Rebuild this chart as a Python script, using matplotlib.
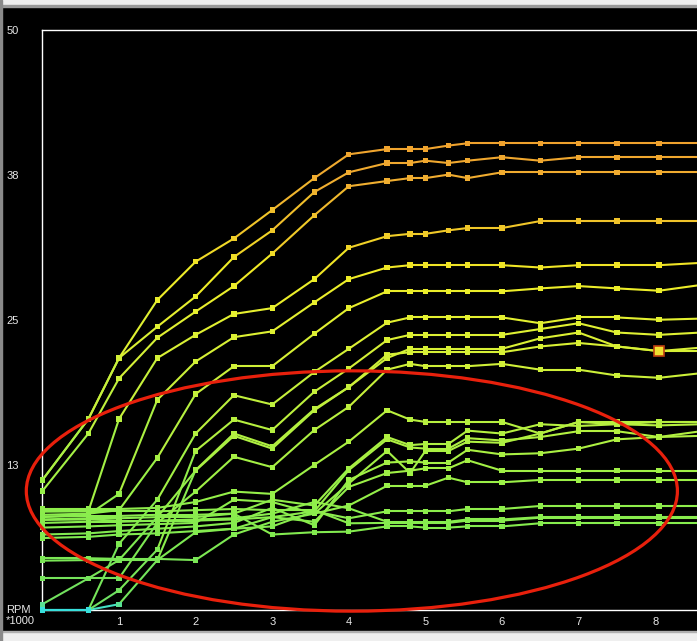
import numpy as np
import matplotlib.pyplot as plt
from matplotlib.collections import LineCollection
from matplotlib.colors import LinearSegmentedColormap, Normalize
from matplotlib.patches import Ellipse, Rectangle

# rpm break points (x1000)
rpm = [0, 0.6, 1.0, 1.5, 2.0, 2.5, 3.0, 3.55, 4.0, 4.5, 4.8, 5.0, 5.3, 5.55,
       6.0, 6.5, 7.0, 7.5, 8.05, 8.6]

# one row of the map per line
row01 = [11.2, 16.45, 21.7, 26.7, 30.0, 32.0, 34.45, 37.2, 39.25, 39.7, 39.7, 39.7, 40.0, 40.2, 40.2, 40.2, 40.2, 40.2, 40.2, 40.2]
row02 = [11.2, 16.45, 21.7, 24.4, 27.0, 30.4, 32.7, 36.0, 37.7, 38.5, 38.5, 38.7, 38.5, 38.7, 39.0, 38.7, 39.0, 39.0, 39.0, 39.0]
row03 = [10.25, 15.2, 19.95, 23.45, 25.7, 27.9, 30.7, 34.0, 36.5, 36.95, 37.2, 37.2, 37.5, 37.2, 37.7, 37.7, 37.7, 37.7, 37.7, 37.7]
row04 = [8.5, 8.5, 16.45, 21.7, 23.7, 25.5, 26.0, 28.5, 31.2, 32.2, 32.4, 32.4, 32.7, 32.9, 32.9, 33.5, 33.5, 33.5, 33.5, 33.5]
row05 = [8.0, 8.2, 10.0, 18.1, 21.4, 23.5, 24.0, 26.5, 28.5, 29.5, 29.7, 29.7, 29.7, 29.7, 29.7, 29.5, 29.7, 29.7, 29.7, 29.9]
row06 = [8.2, 8.3, 8.6, 13.1, 18.6, 21.0, 21.0, 23.8, 26.0, 27.45, 27.45, 27.45, 27.45, 27.45, 27.45, 27.7, 27.9, 27.7, 27.5, 28.0]
row07 = [0, 0, 5.7, 9.5, 15.2, 18.5, 17.7, 20.5, 22.5, 24.75, 25.2, 25.2, 25.2, 25.2, 25.2, 24.7, 25.2, 25.2, 25.0, 25.1]
row08 = [0, 0, 1.7, 5.2, 13.7, 16.4, 15.5, 18.8, 20.8, 23.25, 23.7, 23.7, 23.7, 23.7, 23.7, 24.2, 24.7, 23.9, 23.7, 23.9]
row09 = [0, 0, 0.5, 4.3, 12.05, 15.2, 14.1, 17.3, 19.2, 21.7, 22.5, 22.5, 22.5, 22.5, 22.5, 23.4, 23.9, 22.7, 22.3, 22.6]
row10 = [0.5, 2.73, 4.3, 8.0, 12.0, 15.0, 13.9, 17.2, 19.2, 22.0, 22.2, 22.2, 22.2, 22.2, 22.2, 22.7, 23.0, 22.7, 22.3, 22.3]
row11 = [2.73, 2.73, 2.73, 7.5, 10.2, 13.2, 12.3, 15.5, 17.5, 20.7, 21.2, 21.0, 21.0, 21.0, 21.2, 20.7, 20.7, 20.2, 20.0, 20.4]
row12 = [8.7, 8.7, 8.7, 8.8, 9.3, 10.2, 10.0, 12.5, 14.5, 17.2, 16.4, 16.2, 16.2, 16.2, 16.2, 15.2, 16.2, 16.2, 16.2, 16.2]
row13 = [7.8, 7.9, 7.9, 8.0, 8.0, 8.3, 9.5, 9.0, 12.2, 14.9, 14.2, 14.3, 14.3, 15.45, 15.2, 16.0, 15.85, 16.0, 15.9, 16.0]
row14 = [7.5, 7.6, 7.6, 7.7, 7.7, 7.8, 8.0, 8.5, 12.05, 14.7, 14.0, 13.9, 13.9, 14.8, 14.6, 14.9, 15.4, 15.4, 14.9, 15.4]
row15 = [7.1, 7.2, 7.3, 7.4, 7.5, 9.5, 9.3, 8.3, 10.9, 13.7, 11.8, 13.7, 13.7, 14.5, 14.4, 15.2, 16.2, 16.0, 16.2, 16.2]
row16 = [6.5, 6.6, 6.8, 7.0, 7.2, 7.5, 8.8, 7.3, 11.2, 12.7, 12.8, 12.7, 12.7, 13.8, 13.4, 13.5, 13.9, 14.7, 14.9, 15.0]
row17 = [6.2, 6.3, 6.5, 6.6, 6.8, 7.0, 8.0, 7.6, 10.6, 11.8, 12.0, 12.2, 12.2, 12.9, 12.0, 12.0, 12.0, 12.0, 12.0, 12.0]
row18 = [4.46, 4.46, 4.4, 4.4, 4.3, 6.5, 7.6, 8.3, 9.0, 10.7, 10.7, 10.7, 11.4, 11.0, 11.0, 11.2, 11.2, 11.2, 11.2, 11.2]
row19 = [4.25, 4.3, 4.3, 4.3, 6.7, 7.0, 7.2, 8.5, 7.9, 8.5, 8.5, 8.5, 8.5, 8.7, 8.7, 8.96, 8.96, 8.96, 8.96, 8.96]
row20 = [8.47, 8.5, 8.5, 8.5, 8.6, 8.7, 8.6, 8.6, 7.47, 7.5, 7.5, 7.5, 7.5, 7.7, 7.7, 7.95, 7.95, 7.95, 7.95, 7.95]
row21 = [8.04, 8.1, 8.1, 8.2, 8.2, 8.3, 6.5, 6.7, 6.75, 7.2, 7.2, 7.1, 7.1, 7.2, 7.2, 7.47, 7.47, 7.47, 7.47, 7.47]
row22 = [7.76, 7.8, 7.7, 7.7, 7.8, 7.9, 8.3, 9.3, 8.76, 7.6, 7.6, 7.6, 7.6, 7.8, 7.8, 8.0, 8.0, 8.0, 8.0, 8.0]

rows = [row22, row21, row20, row19, row18, row17, row16, row15, row14, row13, row12,
        row11, row10, row09, row08, row07, row06, row05, row04, row03, row02, row01]

# selected cell (rpm, value)
sel_rpm, sel_val = 8.05, 22.3

y_ticks = [12.5, 25, 37.5, 50]
y_labels = ['13', '25', '38', '50']
x_ticks = [1, 2, 3, 4, 5, 6, 7, 8]

cmap = LinearSegmentedColormap.from_list('map', [
    (0.0, '#38e0dc'), (0.02, '#70e060'), (0.15, '#80ea50'), (0.25, '#98f048'),
    (0.37, '#b4f040'), (0.5, '#d0f038'), (0.6, '#e4f030'), (0.69, '#f0ec26'),
    (0.78, '#f0c828'), (0.88, '#f0ae30'), (1.0, '#f09c2c')])
norm = Normalize(0, 42)

W, H = 697, 641
fig = plt.figure(figsize=(W / 100, H / 100), dpi=100, facecolor='black')
ax = fig.add_axes([42.4 / W, 31 / H, 1 - 42.4 / W, 580.5 / H])
ax.set_facecolor('black')

x = np.array(rpm)
for r in rows:
    v = np.array(r)
    pts = np.column_stack([x, v])
    segs = np.stack([pts[:-1], pts[1:]], axis=1)
    lc = LineCollection(segs, colors=cmap(norm((v[:-1] + v[1:]) / 2)),
                        linewidths=1.5, zorder=3, clip_on=False)
    ax.add_collection(lc)
    ax.scatter(x, v, c=cmap(norm(v)), marker='s', s=15, linewidths=0,
               zorder=4, clip_on=False)

ax.plot([sel_rpm], [sel_val], marker='s', ms=6.5, mfc='#f0e030',
        mec='#c04010', mew=1.2, zorder=5)

ax.add_patch(Ellipse((4.04, 10.25), 8.5, 20.7, fill=False, ec='#e8200c',
                     lw=2.3, zorder=6, clip_on=False))

ax.set_xlim(0, (W - 42.4) / 76.6)
ax.set_ylim(0, 50)
ax.set_xticks(x_ticks)
ax.set_yticks(y_ticks, y_labels)
ax.tick_params(axis='x', length=0, pad=5, labelcolor='#e8e8e8', labelsize=8)
ax.tick_params(axis='y', length=0, pad=26, labelcolor='#e8e8e8', labelsize=8)
for lab in ax.get_xticklabels() + ax.get_yticklabels():
    lab.set_fontfamily('Liberation Sans')
for lab in ax.get_yticklabels():
    lab.set_horizontalalignment('left')

for s in ['left', 'top', 'bottom']:
    ax.spines[s].set_color('white')
    ax.spines[s].set_linewidth(1)
ax.spines['right'].set_visible(False)

fig.text(6 / W, 1 - 610 / H, 'RPM', color='#e8e8e8', fontsize=8,
         family='Liberation Sans', va='center', ha='left')
fig.text(6 / W, 1 - 621.5 / H, '*1000', color='#e8e8e8', fontsize=8,
         family='Liberation Sans', va='center', ha='left')

# window frame around the black panel
fig.patches.append(Rectangle((0, 1 - 5 / H), 1, 5 / H, transform=fig.transFigure,
                             color='#efefef', zorder=0))
fig.patches.append(Rectangle((0, 1 - 6.5 / H), 1, 1.5 / H, transform=fig.transFigure,
                             color='#9a9a9a', zorder=0))
fig.patches.append(Rectangle((0, 0), 1, 9 / H, transform=fig.transFigure,
                             color='#efefef', zorder=0))
fig.patches.append(Rectangle((0, 9 / H), 1, 1 / H, transform=fig.transFigure,
                             color='#b0b0b0', zorder=0))
fig.patches.append(Rectangle((0, 0), 1.5 / W, 1, transform=fig.transFigure,
                             color='#8a8a8a', zorder=0))

fig.savefig('out.png', dpi=100, facecolor='black')
